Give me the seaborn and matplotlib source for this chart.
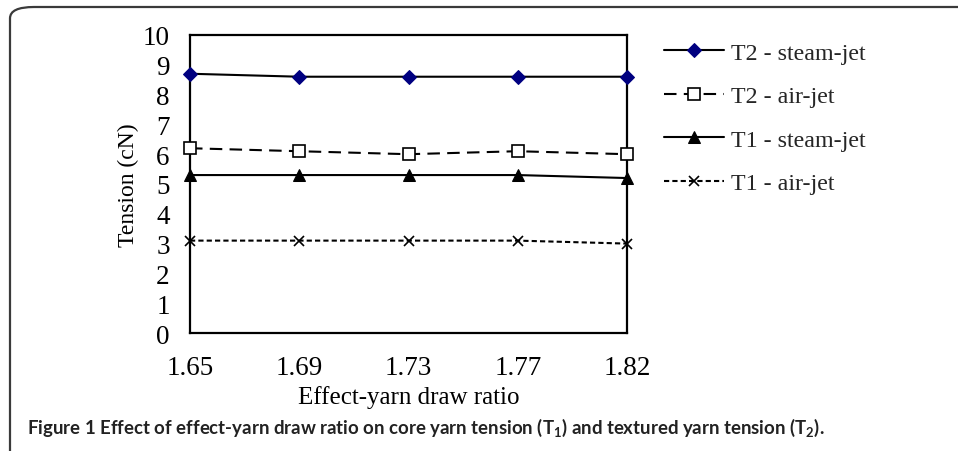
import matplotlib
matplotlib.use("Agg")
import matplotlib.pyplot as plt
from matplotlib.patches import FancyBboxPatch
import numpy as np
import pandas as pd
import seaborn as sns

# Draw ratios (equally spaced categories on the x axis)
draw_ratios = ["1.65", "1.69", "1.73", "1.77", "1.82"]

# Tension values (cN)
t2_steam = [8.7, 8.6, 8.6, 8.6, 8.6]
t2_air = [6.2, 6.1, 6.0, 6.1, 6.0]
t1_steam = [5.3, 5.3, 5.3, 5.3, 5.2]
t1_air = [3.1, 3.1, 3.1, 3.1, 3.0]

series_names = ["T2 - steam-jet", "T2 - air-jet", "T1 - steam-jet", "T1 - air-jet"]
series_values = [t2_steam, t2_air, t1_steam, t1_air]

y_ticks = list(range(0, 11))

sns.set_theme(style="white")
plt.rcParams["font.family"] = ["Liberation Serif", "DejaVu Serif"]
plt.rcParams["mathtext.fontset"] = "custom"
plt.rcParams["mathtext.rm"] = "Lato"
plt.rcParams["mathtext.bf"] = "Lato:bold"

rows = []
for name, vals in zip(series_names, series_values):
    for i, v in enumerate(vals):
        rows.append({"pos": i, "ratio": draw_ratios[i], "tension": v, "series": name})
df = pd.DataFrame(rows)

fig = plt.figure(figsize=(9.58, 4.52), dpi=100)
ax = fig.add_axes([190 / 958, 1 - 334 / 452, (627 - 190) / 958, (334 - 36) / 452])

styles = {
    "T2 - steam-jet": dict(marker="D", markersize=7.5, markerfacecolor="#000080",
                           markeredgecolor="#000080", dashes=None),
    "T2 - air-jet": dict(marker="s", markersize=8, markerfacecolor="white",
                         markeredgecolor="black", markeredgewidth=1.2, dashes=(6, 3.5)),
    "T1 - steam-jet": dict(marker="^", markersize=8, markerfacecolor="black",
                           markeredgecolor="black", dashes=None),
    "T1 - air-jet": dict(marker="x", markersize=7, markeredgecolor="black",
                         markeredgewidth=1.2, dashes=(2.5, 1.5)),
}

for name in series_names:
    sub = df[df["series"] == name]
    st = dict(styles[name])
    dashes = st.pop("dashes")
    sns.lineplot(data=sub, x="pos", y="tension", ax=ax, color="black",
                 linewidth=1.5, label=name, **st)
    ln = ax.get_lines()[-1]
    if dashes is not None:
        ln.set_dashes(dashes)
    else:
        ln.set_linestyle("-")
    ln.set_clip_on(False)
    ln.set_zorder(3)

ax.set_xlim(0, 4)
ax.set_ylim(0, 10)
ax.set_xticks(range(len(draw_ratios)))
ax.set_xticklabels(draw_ratios)
ax.set_yticks(y_ticks)
ax.tick_params(axis="both", direction="inout", length=10, width=1.2, colors="black",
               labelsize=19.5)
ax.tick_params(axis="y", pad=9.5)
ax.tick_params(axis="x", pad=10.5)
for sp in ax.spines.values():
    sp.set_visible(True)
    sp.set_color("black")
    sp.set_linewidth(1.6)
ax.set_xlabel("Effect-yarn draw ratio", fontsize=18, labelpad=4, color="black")
ax.set_ylabel("Tension (cN)", fontsize=17, labelpad=2.5, color="black")
ax.grid(False)

handles, labels = ax.get_legend_handles_labels()
ax.legend(handles, labels, loc="upper left", bbox_to_anchor=(664 / 958, 1 - 43 / 452),
          bbox_transform=fig.transFigure, frameon=False, fontsize=17.3,
          handlelength=2.5, handletextpad=0.3, labelspacing=0.9,
          borderpad=0, borderaxespad=0, numpoints=1)

# Caption box with rounded corner
box = FancyBboxPatch((10 / 958, -0.2), 1.2, 1.2 - 8 / 452,
                     boxstyle="round,pad=0,rounding_size=0.025",
                     transform=fig.transFigure, fill=False,
                     edgecolor="#3a3a3a", linewidth=1.6, clip_on=False)
fig.patches.append(box)

fig.text(27 / 958, 1 - 428 / 452,
         r"Figure 1 Effect of effect-yarn draw ratio on core yarn tension ($\mathbf{T_1}$) and textured yarn tension ($\mathbf{T_2}$).",
         fontsize=13.4, fontweight="bold", family=["Lato", "DejaVu Sans"],
         color="#222222", va="center", ha="left")

fig.savefig("out.png", dpi=100)
